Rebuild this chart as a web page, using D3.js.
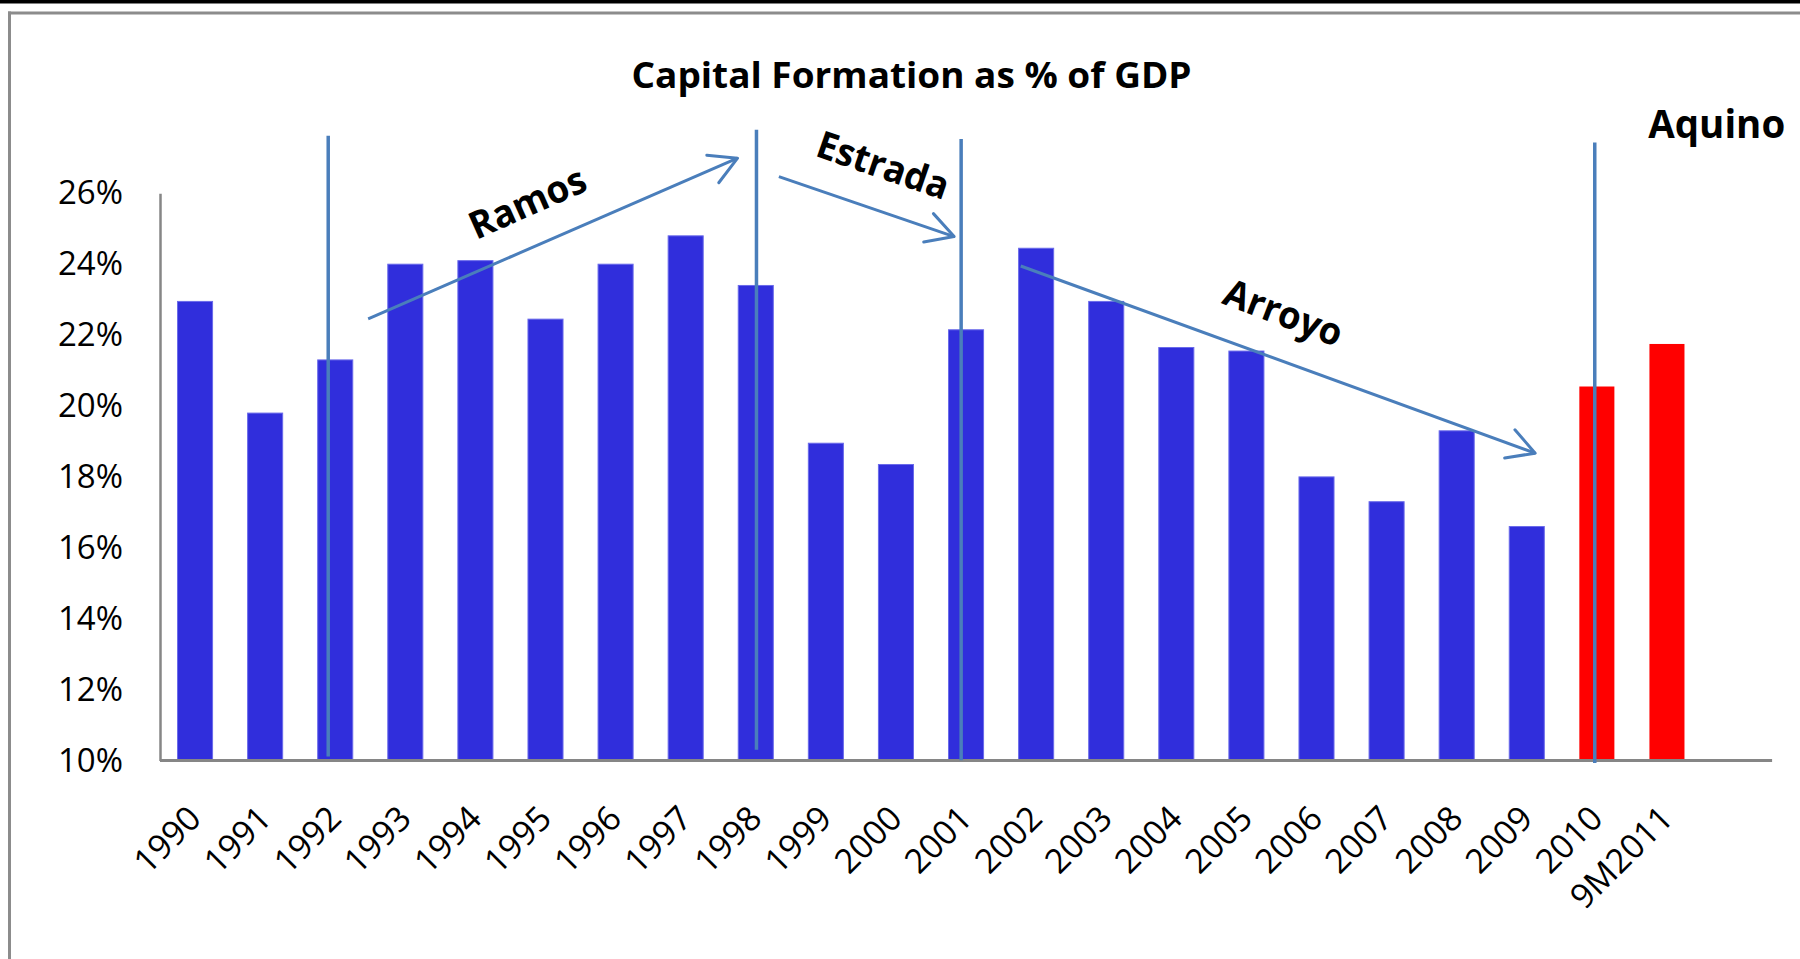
<!DOCTYPE html>
<html>
<head>
<meta charset="utf-8">
<script src="https://cdn.jsdelivr.net/npm/d3@7"></script>
<style>
  html, body { margin: 0; padding: 0; background: #fff; }
  svg { display: block; }
</style>
</head>
<body>
<svg id="chart" width="1800" height="959"></svg>
<script>
// Gross capital formation as a share of GDP, Philippines
const categories = ["1990","1991","1992","1993","1994","1995","1996","1997","1998","1999","2000",
  "2001","2002","2003","2004","2005","2006","2007","2008","2009","2010","9M2011"];
const values = [22.95, 19.8, 21.3, 24.0, 24.1, 22.45, 24.0, 24.8, 23.4, 18.95, 18.35,
  22.15, 24.45, 22.95, 21.65, 21.55, 18.0, 17.3, 19.3, 16.6, 20.55, 21.75];
// Bars of the Aquino administration are highlighted
const highlighted = ["2010", "9M2011"];
const yTicks = [10, 12, 14, 16, 18, 20, 22, 24, 26];

// Term boundaries, in category-slot units (x) and percent (y)
const termLines = [
  { x: 2.40, y1: 27.62, y2: 10.11 },
  { x: 8.51, y1: 27.79, y2: 10.30 },
  { x: 11.43, y1: 27.53, y2: 10.01 },
  { x: 20.47, y1: 27.43, y2: 9.93 }
];
// Trend arrows per administration
const trendArrows = [
  { x1: 2.97, y1: 22.46, x2: 8.24, y2: 26.99 },
  { x1: 8.83, y1: 26.47, x2: 11.33, y2: 24.78 },
  { x1: 12.28, y1: 23.95, x2: 19.62, y2: 18.67 }
];
const presidents = [
  { name: "Ramos",   x: 5.24,  y: 25.75, angle: -24, len: 124 },
  { name: "Estrada", x: 10.32, y: 26.80, angle: 19,  len: 137 },
  { name: "Arroyo",  x: 16.03, y: 22.64, angle: 21,  len: 124 }
];
const lastPresident = { name: "Aquino", x: 22.21, y: 27.56 };

const svg = d3.select("#chart");
const left = 160, baseY = 760.5, topY = 193.3;
const x = d3.scaleBand().domain(categories).range([left, 1702]).paddingInner(0.5).paddingOuter(0.25);
const step = x.step();
const slot = d3.scaleLinear().domain([0, categories.length]).range([left, left + step * categories.length]);
const y = d3.scaleLinear().domain([10, 26]).range([baseY, topY]);

// Outer frame
svg.append("rect").attr("x", 0).attr("y", 0).attr("width", 1800).attr("height", 3.5).attr("fill", "#000");
svg.append("line").attr("x1", 8).attr("x2", 1800).attr("y1", 13).attr("y2", 13)
  .attr("stroke", "#8c8c8c").attr("stroke-width", 3);
svg.append("line").attr("x1", 9.5).attr("x2", 9.5).attr("y1", 11.5).attr("y2", 959)
  .attr("stroke", "#8c8c8c").attr("stroke-width", 3);

// Title
svg.append("text").attr("x", 911.5).attr("y", 88).attr("text-anchor", "middle")
  .attr("font-family", "Open Sans").attr("font-weight", 700).attr("font-size", 35)
  .attr("textLength", 560).attr("lengthAdjust", "spacingAndGlyphs")
  .text("Capital Formation as % of GDP");

// Bars
svg.append("g").selectAll("rect").data(categories).join("rect")
  .attr("x", d => x(d))
  .attr("y", (d, i) => y(values[i]))
  .attr("width", x.bandwidth())
  .attr("height", (d, i) => baseY - y(values[i]))
  .attr("fill", d => highlighted.includes(d) ? "#ff0000" : "#302edc")
  .attr("stroke", d => highlighted.includes(d) ? "none" : "#6a6aea")
  .attr("stroke-width", 1);

// Y axis
const yAxis = svg.append("g").attr("transform", `translate(${left},0)`)
  .call(d3.axisLeft(y).tickValues(yTicks).tickSize(0).tickPadding(37).tickFormat(d => d + "%"));
yAxis.select(".domain").attr("stroke", "#868686").attr("stroke-width", 2.5);
yAxis.selectAll("text").attr("font-family", "Open Sans").attr("font-size", 33).attr("fill", "#000");

// X axis
const xAxis = svg.append("g").attr("transform", `translate(0,${baseY})`)
  .call(d3.axisBottom(x).tickSize(0).tickPadding(0));
xAxis.select(".domain").attr("d", `M${left},0H${slot(categories.length + 1)}`)
  .attr("stroke", "#868686").attr("stroke-width", 3);
xAxis.selectAll("text")
  .attr("font-family", "Open Sans").attr("font-size", 34).attr("fill", "#000")
  .attr("text-anchor", "end").attr("x", 0).attr("y", 0).attr("dy", 0)
  .attr("transform", "translate(8,60) rotate(-45)");

// Annotation colour
const lineColor = "#4a7ebb";

svg.append("defs").append("marker")
  .attr("id", "chevron").attr("markerUnits", "userSpaceOnUse")
  .attr("viewBox", "-32 -18 36 36").attr("refX", 0).attr("refY", 0)
  .attr("markerWidth", 36).attr("markerHeight", 36).attr("orient", "auto")
  .append("path").attr("d", "M-27,-15L0,0L-27,15")
  .attr("fill", "none").attr("stroke", lineColor).attr("stroke-width", 3)
  .attr("stroke-linecap", "round").attr("stroke-linejoin", "round");

svg.append("g").selectAll("line").data(termLines).join("line")
  .attr("x1", d => slot(d.x)).attr("x2", d => slot(d.x))
  .attr("y1", d => y(d.y1)).attr("y2", d => y(d.y2))
  .attr("stroke", lineColor).attr("stroke-width", 3.5);

svg.append("g").selectAll("line").data(trendArrows).join("line")
  .attr("x1", d => slot(d.x1)).attr("y1", d => y(d.y1))
  .attr("x2", d => slot(d.x2)).attr("y2", d => y(d.y2))
  .attr("stroke", lineColor).attr("stroke-width", 3)
  .attr("marker-end", "url(#chevron)");

svg.append("g").selectAll("text").data(presidents).join("text")
  .attr("transform", d => `translate(${slot(d.x)},${y(d.y)}) rotate(${d.angle})`)
  .attr("text-anchor", "middle").attr("dy", "0.36em")
  .attr("font-family", "Open Sans").attr("font-weight", 700).attr("font-size", 38)
  .attr("textLength", d => d.len).attr("lengthAdjust", "spacingAndGlyphs")
  .text(d => d.name);

svg.append("text")
  .attr("x", slot(lastPresident.x)).attr("y", y(lastPresident.y))
  .attr("text-anchor", "middle")
  .attr("font-family", "Open Sans").attr("font-weight", 700).attr("font-size", 39)
  .attr("textLength", 137).attr("lengthAdjust", "spacingAndGlyphs")
  .text(lastPresident.name);
</script>
</body>
</html>
